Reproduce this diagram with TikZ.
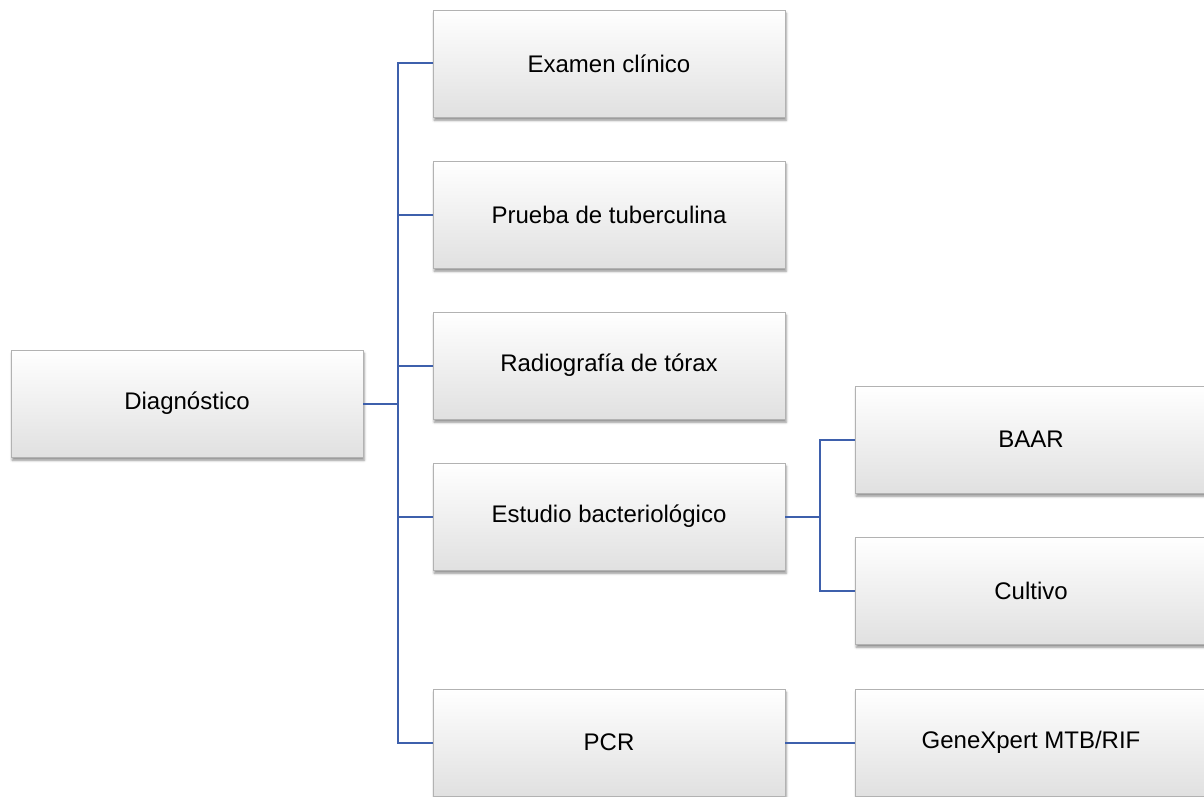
\documentclass[tikz,border=0pt]{standalone}
\usepackage{fontspec}
\setmainfont{Liberation Sans}
\usetikzlibrary{positioning, shadows, shadows.blur, calc}
\definecolor{linkblue}{RGB}{62,96,172}
\tikzset{
  % Boxes
  stepbox/.style={
    draw=black!30, line width=0.4pt, rectangle, align=center,
    font=\fontsize{12}{14}\selectfont,
    minimum width=176pt, minimum height=53.5pt,
    inner sep=0pt, outer sep=0pt,
    top color=white, middle color=white!98!black, bottom color=black!12,
    blur shadow={shadow xshift=0.6pt, shadow yshift=-1.6pt,
                 shadow blur radius=1.2pt, shadow opacity=45}
  },
  % Connectors
  link/.style={
    draw=linkblue, line width=1pt
  },
}

\begin{document}
\begin{tikzpicture}[node distance=22pt and 35pt]

  \useasboundingbox (0,0) rectangle (602pt,-398.5pt);

  %% ── Second level ──
  \node[stepbox, anchor=north west] (examen) at (216.5pt,-5pt) {Examen clínico};
  \node[stepbox, below=of examen]  (prueba)   {Prueba de tuberculina};
  \node[stepbox, below=of prueba]  (radio)    {Radiografía de tórax};
  \node[stepbox, below=of radio]   (estudio)  {Estudio bacteriológico};
  \node[stepbox, below=59.5pt of estudio] (pcr) {PCR};

  %% ── Root ──
  \node[stepbox, left=of radio, yshift=-19pt] (diag) {Diagnóstico};

  %% ── Third level ──
  \node[stepbox, right=of estudio, yshift=38.5pt] (baar)    {BAAR};
  \node[stepbox, below=of baar]                   (cultivo) {Cultivo};
  \node[stepbox, right=of pcr]                    (xpert)   {GeneXpert MTB/RIF};

  %% ── Connectors ──
  \foreach \k in {examen,prueba,radio,estudio,pcr}
    \draw[link] (diag.east) -- ++(17.5pt,0) |- (\k.west);

  \foreach \k in {baar,cultivo}
    \draw[link] (estudio.east) -- ++(17.5pt,0) |- (\k.west);

  \draw[link] (pcr) -- (xpert);

\end{tikzpicture}
\end{document}
